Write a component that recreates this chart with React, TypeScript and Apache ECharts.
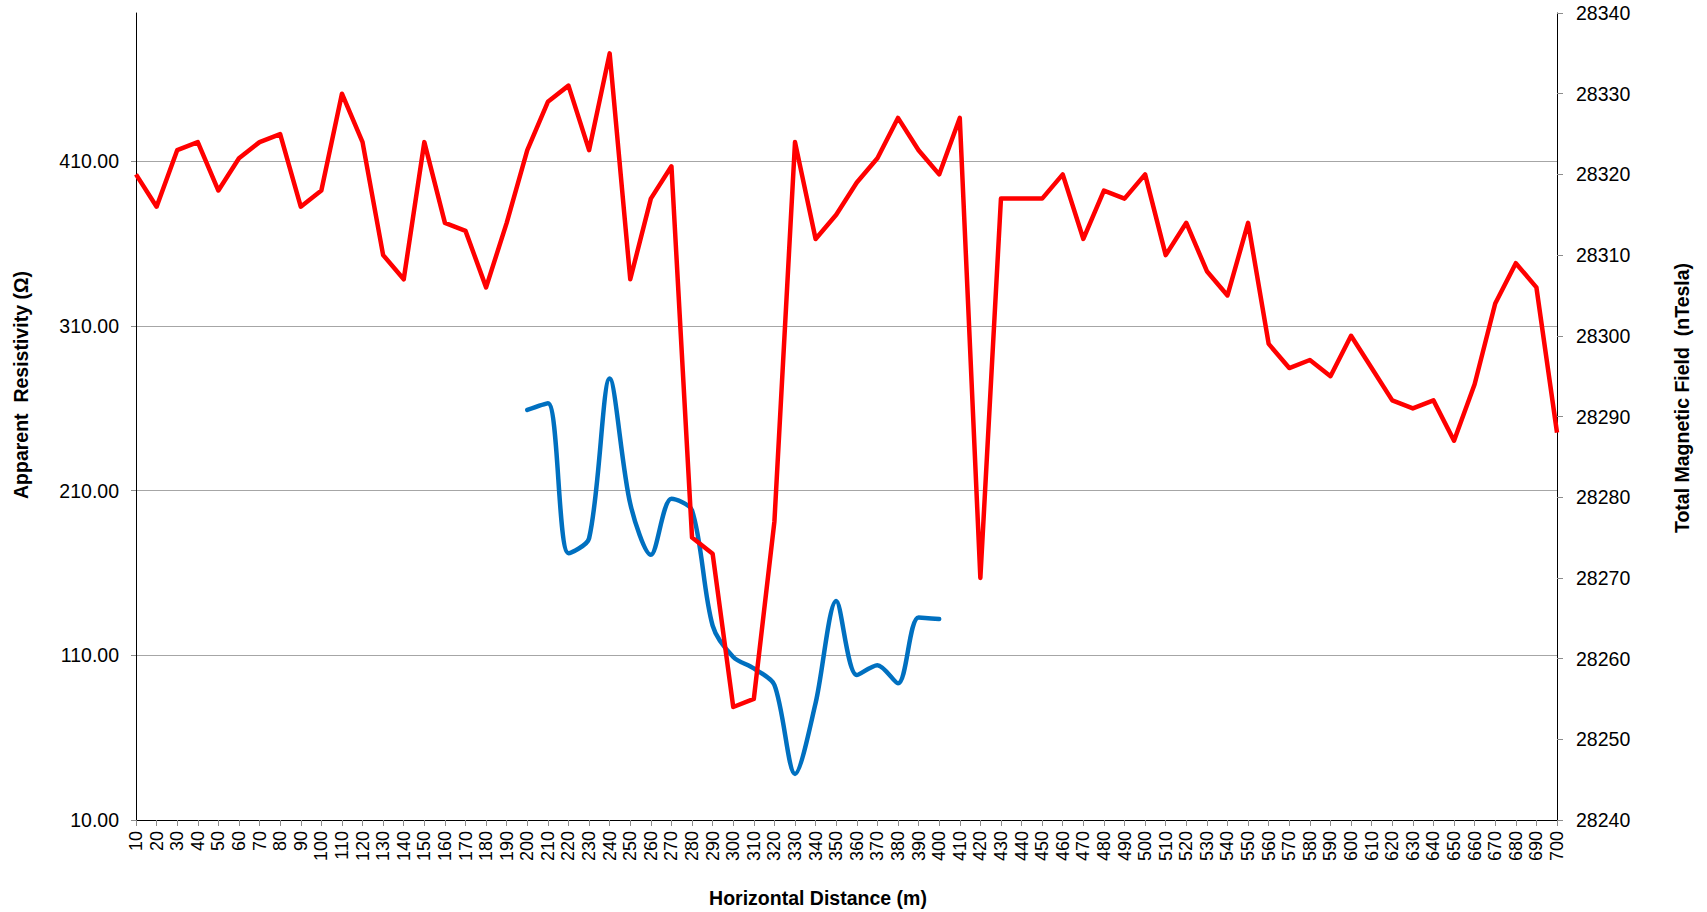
import React, { useEffect, useRef } from "react";
import * as echarts from "echarts";

const distances = [
  "10", "20", "30", "40", "50", "60", "70", "80", "90", "100",
  "110", "120", "130", "140", "150", "160", "170", "180", "190", "200",
  "210", "220", "230", "240", "250", "260", "270", "280", "290", "300",
  "310", "320", "330", "340", "350", "360", "370", "380", "390", "400",
  "410", "420", "430", "440", "450", "460", "470", "480", "490", "500",
  "510", "520", "530", "540", "550", "560", "570", "580", "590", "600",
  "610", "620", "630", "640", "650", "660", "670", "680", "690", "700",
];

const magneticField = [
  28320, 28316, 28323, 28324, 28318, 28322, 28324, 28325, 28316, 28318,
  28330, 28324, 28310, 28307, 28324, 28314, 28313, 28306, 28314, 28323,
  28329, 28331, 28323, 28335, 28307, 28317, 28321, 28275, 28273, 28254,
  28255, 28277, 28324, 28312, 28315, 28319, 28322, 28327, 28323, 28320,
  28327, 28270, 28317, 28317, 28317, 28320, 28312, 28318, 28317, 28320,
  28310, 28314, 28308, 28305, 28314, 28299, 28296, 28297, 28295, 28300,
  28296, 28292, 28291, 28292, 28287, 28294, 28304, 28309, 28306, 28288,
];

const resistivityDistances = [
  "200", "210", "220", "230", "240", "250", "260", "270", "280", "290",
  "300", "310", "320", "330", "340", "350", "360", "370", "380", "390", "400",
];

const resistivity = [
  259, 263, 172, 181, 278, 202, 171, 205, 198, 128,
  109, 102, 92, 38, 81, 143, 98, 104, 93, 133, 132,
];

const leftTicks = { min: 10, max: 500, interval: 100 };
const rightTicks = { min: 28240, max: 28340, interval: 10 };

const tickFont = "'Liberation Sans', Arial, sans-serif";
const titleFont = "'Liberation Sans Narrow', 'Arial Narrow', 'Liberation Sans', Arial, sans-serif";

export default function App() {
  const ref = useRef<HTMLDivElement>(null);

  useEffect(() => {
    if (!ref.current) return;
    const chart = echarts.init(ref.current, null, { renderer: "svg" });
    chart.setOption({
      animation: false,
      backgroundColor: "#ffffff",
      grid: { left: 136, right: 150, top: 13, bottom: 92, containLabel: false },
      xAxis: {
        type: "category",
        data: distances,
        boundaryGap: false,
        axisLine: { show: true, lineStyle: { color: "#000", width: 1 } },
        axisTick: { show: true, length: 6, lineStyle: { color: "#8c8c8c" } },
        axisLabel: {
          rotate: 90,
          interval: 0,
          margin: 11,
          fontSize: 18,
          fontFamily: tickFont,
          color: "#000",
        },
        splitLine: { show: false },
      },
      yAxis: [
        {
          type: "value",
          position: "left",
          min: leftTicks.min,
          max: leftTicks.max,
          interval: leftTicks.interval,
          axisLine: { show: true, lineStyle: { color: "#000", width: 1 } },
          axisTick: { show: true, length: 5, lineStyle: { color: "#8c8c8c" } },
          axisLabel: {
            margin: 17,
            fontSize: 19.5,
            fontFamily: tickFont,
            color: "#000",
            showMaxLabel: false,
            formatter: (v: number) => (v >= 500 ? "" : v.toFixed(2)),
          },
          splitLine: {
            show: true,
            showMaxLine: false,
            showMinLine: false,
            lineStyle: { color: "#a6a6a6", width: 1 },
          },
        },
        {
          type: "value",
          position: "right",
          min: rightTicks.min,
          max: rightTicks.max,
          interval: rightTicks.interval,
          axisLine: { show: true, lineStyle: { color: "#000", width: 1 } },
          axisTick: { show: true, length: 6, lineStyle: { color: "#8c8c8c" } },
          axisLabel: {
            margin: 19,
            fontSize: 19.5,
            fontFamily: tickFont,
            color: "#000",
            formatter: (v: number) => String(v),
          },
          splitLine: { show: false },
        },
      ],
      series: [
        {
          name: "Apparent Resistivity",
          type: "line",
          yAxisIndex: 0,
          smooth: 0.3,
          showSymbol: false,
          symbol: "none",
          lineStyle: { color: "#0070c0", width: 4.5, cap: "round" },
          data: resistivityDistances.map((d, i) => [d, resistivity[i]]),
        },
        {
          name: "Total Magnetic Field",
          type: "line",
          yAxisIndex: 1,
          showSymbol: false,
          symbol: "none",
          lineStyle: { color: "#ff0000", width: 4.5, join: "round" },
          data: magneticField,
        },
      ],
      graphic: [
        {
          type: "text",
          x: 21,
          y: 385,
          rotation: Math.PI / 2,
          style: {
            text: "Apparent  Resistivity (Ω)",
            fontSize: 19.5,
            fontWeight: "bold",
            fontFamily: titleFont,
            fill: "#000",
            align: "center",
            verticalAlign: "middle",
          },
        },
        {
          type: "text",
          x: 1682,
          y: 398,
          rotation: Math.PI / 2,
          style: {
            text: "Total Magnetic Field  (nTesla)",
            fontSize: 19.5,
            fontWeight: "bold",
            fontFamily: titleFont,
            fill: "#000",
            align: "center",
            verticalAlign: "middle",
          },
        },
        {
          type: "text",
          x: 818,
          y: 898,
          style: {
            text: "Horizontal Distance (m)",
            fontSize: 19.5,
            fontWeight: "bold",
            fontFamily: titleFont,
            fill: "#000",
            align: "center",
            verticalAlign: "middle",
          },
        },
      ],
    });
    return () => chart.dispose();
  }, []);

  return (
    <div
      ref={ref}
      style={{ position: "fixed", left: 0, top: 0, width: "1707px", height: "912px" }}
    />
  );
}
